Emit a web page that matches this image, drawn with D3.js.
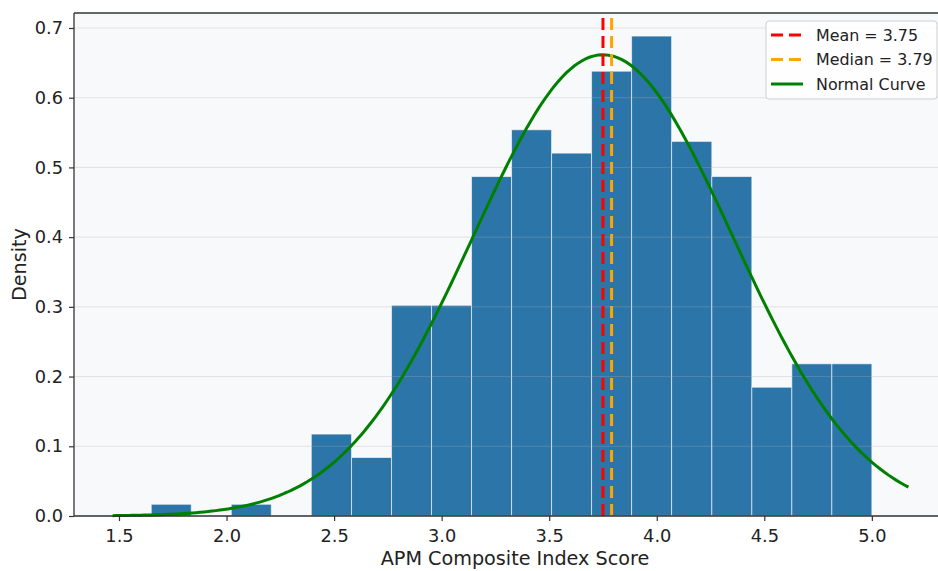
<!DOCTYPE html>
<html>
<head>
<meta charset="utf-8">
<script src="https://cdn.jsdelivr.net/npm/d3@7"></script>
<style>
  html, body { margin: 0; padding: 0; background: #ffffff; }
  svg { display: block; font-family: "DejaVu Sans", sans-serif; }
</style>
</head>
<body>
<svg id="chart" width="938" height="571"></svg>
<script>
// ---- Data ----
const binEdges = [1.650, 1.836, 2.022, 2.208, 2.394, 2.581, 2.767, 2.953, 3.139, 3.325,
                  3.511, 3.697, 3.883, 4.069, 4.256, 4.442, 4.628, 4.814, 5.000];
const densities = [0.0168, 0, 0.0168, 0, 0.1175, 0.0839, 0.3022, 0.3022, 0.4869, 0.5540,
                   0.5205, 0.6380, 0.6884, 0.5373, 0.4869, 0.1847, 0.2183, 0.2183];
const meanValue = 3.75;
const medianValue = 3.79;
const stdValue = 0.603;
const curveRange = [1.47, 5.17];
const xTicks = [1.5, 2.0, 2.5, 3.0, 3.5, 4.0, 4.5, 5.0];
const yTicks = [0.0, 0.1, 0.2, 0.3, 0.4, 0.5, 0.6, 0.7];
const legendLabels = ["Mean = 3.75", "Median = 3.79", "Normal Curve"];

// ---- Layout ----
const svg = d3.select("#chart");
const pL = 74, pT = 13, pR = 948, pB = 516;

const x = d3.scaleLinear().domain([1.2908, 5.354]).range([pL, pR]);
const y = d3.scaleLinear().domain([0, 0.7215]).range([pB, pT]);

// axes background
svg.append("rect").attr("x", pL).attr("y", pT)
  .attr("width", pR - pL).attr("height", pB - pT)
  .attr("fill", "#f8f9fa");

// bars
const bins = densities.map((d, i) => ({ x0: binEdges[i], x1: binEdges[i + 1], d }));
svg.append("g").selectAll("rect")
  .data(bins.filter(b => b.d > 0))
  .join("rect")
  .attr("x", b => x(b.x0))
  .attr("y", b => y(b.d))
  .attr("width", b => x(b.x1) - x(b.x0))
  .attr("height", b => y(0) - y(b.d))
  .attr("fill", "#2c75a8")
  .attr("stroke", "rgba(255,255,255,0.6)")
  .attr("stroke-width", 1);

// grid (horizontal)
svg.append("g").selectAll("line")
  .data(yTicks)
  .join("line")
  .attr("x1", pL).attr("x2", pR)
  .attr("y1", d => y(d)).attr("y2", d => y(d))
  .attr("stroke", "#b0b0b0").attr("stroke-opacity", 0.3).attr("stroke-width", 1);

// normal curve
const normPdf = v => Math.exp(-0.5 * Math.pow((v - meanValue) / stdValue, 2)) / (stdValue * Math.sqrt(2 * Math.PI));
const curveXs = d3.range(0, 201).map(i => curveRange[0] + (curveRange[1] - curveRange[0]) * i / 200);
svg.append("path")
  .datum(curveXs)
  .attr("fill", "none")
  .attr("stroke", "#008000")
  .attr("stroke-width", 3)
  .attr("d", d3.line().x(v => x(v)).y(v => y(normPdf(v))));

// mean / median lines
const vlines = [
  { v: meanValue, color: "#ff0000" },
  { v: medianValue, color: "#ffa500" }
];
svg.append("g").selectAll("line")
  .data(vlines)
  .join("line")
  .attr("x1", d => x(d.v)).attr("x2", d => x(d.v))
  .attr("y1", pB).attr("y2", pT)
  .attr("stroke", d => d.color)
  .attr("stroke-width", 3)
  .attr("stroke-dasharray", "12,6");

// axes
const xAxis = d3.axisBottom(x).tickValues(xTicks).tickFormat(d3.format(".1f")).tickSize(5).tickPadding(8);
const yAxis = d3.axisLeft(y).tickValues(yTicks).tickFormat(d3.format(".1f")).tickSize(5).tickPadding(6);

const gx = svg.append("g").attr("transform", `translate(0,${pB})`).call(xAxis);
const gy = svg.append("g").attr("transform", `translate(${pL},0)`).call(yAxis);
[gx, gy].forEach(g => {
  g.select(".domain").remove();
  g.selectAll(".tick line").attr("stroke", "#333").attr("stroke-width", 1.2);
  g.selectAll(".tick text").attr("fill", "#222").style("font-size", "17.8px").style("font-family", "DejaVu Sans");
});

// spines
svg.append("line").attr("x1", pL).attr("x2", pL).attr("y1", pT).attr("y2", pB)
  .attr("stroke", "#333").attr("stroke-width", 1.3);
svg.append("line").attr("x1", pL).attr("x2", pR).attr("y1", pB).attr("y2", pB)
  .attr("stroke", "#333").attr("stroke-width", 1.3);
svg.append("line").attr("x1", pL).attr("x2", pR).attr("y1", pT).attr("y2", pT)
  .attr("stroke", "#333").attr("stroke-width", 1.3);

// axis labels
svg.append("text")
  .attr("x", 515).attr("y", 565)
  .attr("text-anchor", "middle")
  .style("font-size", "19.2px").attr("fill", "#222")
  .text("APM Composite Index Score");
svg.append("text")
  .attr("transform", `translate(26,${(pT + pB) / 2}) rotate(-90)`)
  .attr("text-anchor", "middle")
  .style("font-size", "19.2px").attr("fill", "#222")
  .text("Density");

// legend
const lg = svg.append("g");
lg.append("rect").attr("x", 766).attr("y", 21).attr("width", 171).attr("height", 78)
  .attr("rx", 3).attr("fill", "rgba(255,255,255,0.85)").attr("stroke", "#d0d0d0");
const legendItems = [
  { label: legendLabels[0], color: "#ff0000", dash: "12,6" },
  { label: legendLabels[1], color: "#ffa500", dash: "12,6" },
  { label: legendLabels[2], color: "#008000", dash: null }
];
legendItems.forEach((it, i) => {
  const yy = 35 + i * 24.5;
  lg.append("line").attr("x1", 771).attr("x2", 803).attr("y1", yy).attr("y2", yy)
    .attr("stroke", it.color).attr("stroke-width", 3)
    .attr("stroke-dasharray", it.dash);
  lg.append("text").attr("x", 816).attr("y", yy + 5.8)
    .style("font-size", "15.9px").attr("fill", "#222").text(it.label);
});
</script>
</body>
</html>
